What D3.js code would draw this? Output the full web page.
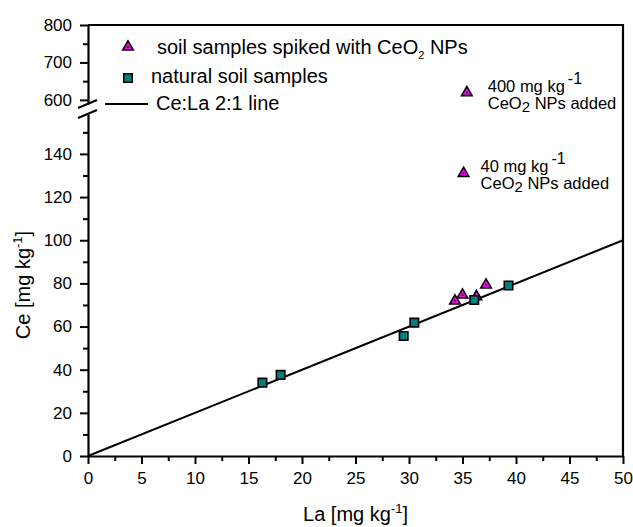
<!DOCTYPE html>
<html>
<head>
<meta charset="utf-8">
<title>Ce vs La</title>
<script src="https://cdn.jsdelivr.net/npm/d3@7"></script>
<style>
  body { margin: 0; background: #fff; }
  svg text { font-family: "Liberation Sans", Arial, sans-serif; fill: #000; }
</style>
</head>
<body>
<script>
// natural soil samples
var natLa = [16.3, 18.0, 29.5, 30.5, 36.1, 39.3];
var natCe = [34.0, 37.6, 55.6, 61.8, 72.3, 79.0];
// soil samples spiked with CeO2 NPs
var spkLa = [34.3, 35.0, 36.3, 37.2, 35.1, 35.4];
var spkCe = [71.9, 74.6, 73.9, 79.3, 131.0, 619.5];
// Ce:La 2:1 line
var lineLa = [0, 50];
var lineCe = [0, 100];

var xTicks = [0, 5, 10, 15, 20, 25, 30, 35, 40, 45, 50];
var yLowTicks = [0, 20, 40, 60, 80, 100, 120, 140];
var yHighTicks = [600, 700, 800];

// annotated spiked points (index into spk arrays)
var annotIdx = [4, 5];
var annotDose = ["40 mg kg", "400 mg kg"];
var annotDx = [17, 21];

var W = 633, H = 527;
var plotL = 88, plotR = 623, plotT = 25, plotB = 456;

var svg = d3.select("body").append("svg")
  .attr("width", W)
  .attr("height", H);

var x = d3.scaleLinear().domain([0, 50]).range([plotL, plotR]);
var yLow = d3.scaleLinear().domain([0, 158.5]).range([plotB, 114]);
var yHigh = d3.scaleLinear().domain([589, 800]).range([104, plotT]);
function yPos(v) { return v > 400 ? yHigh(v) : yLow(v); }

function styleAxis(g) {
  g.selectAll("path.domain").attr("stroke", "#000").attr("stroke-width", 2.2);
  g.selectAll(".tick line").attr("stroke", "#000").attr("stroke-width", 2);
  g.selectAll(".tick text").style("font-size", "17px").attr("fill", "#000");
}

// x axis
var gx = svg.append("g").attr("transform", "translate(0," + plotB + ")");
gx.call(d3.axisBottom(x).tickValues(d3.range(2.5, 50, 5)).tickSize(5).tickSizeOuter(0).tickFormat(""));
gx.append("g").call(d3.axisBottom(x).tickValues(xTicks).tickSize(8).tickPadding(8).tickSizeOuter(0)
  .tickFormat(d3.format("d")));
gx.select("g path.domain").remove();
styleAxis(gx);

// y axis lower segment
var gyl = svg.append("g").attr("transform", "translate(" + plotL + ",0)");
gyl.call(d3.axisLeft(yLow).tickValues(d3.range(10, 160, 20)).tickSize(5).tickSizeOuter(0).tickFormat(""));
gyl.append("g").call(d3.axisLeft(yLow).tickValues(yLowTicks).tickSize(8).tickPadding(8).tickSizeOuter(0)
  .tickFormat(d3.format("d")));
gyl.select("g path.domain").remove();
styleAxis(gyl);

// y axis upper segment
var gyh = svg.append("g").attr("transform", "translate(" + plotL + ",0)");
gyh.call(d3.axisLeft(yHigh).tickValues([650, 750]).tickSize(5).tickSizeOuter(0).tickFormat(""));
gyh.append("g").call(d3.axisLeft(yHigh).tickValues(yHighTicks).tickSize(8).tickPadding(8).tickSizeOuter(0)
  .tickFormat(d3.format("d")));
gyh.select("g path.domain").remove();
styleAxis(gyh);

// break marks
[[108, 100], [118, 110]].forEach(function(b) {
  svg.append("line")
    .attr("x1", plotL - 10).attr("y1", b[0])
    .attr("x2", plotL + 9).attr("y2", b[1])
    .attr("stroke", "#000").attr("stroke-width", 2);
});

// top and right frame
svg.append("path")
  .attr("d", "M" + plotL + "," + plotT + "H" + plotR + "V" + plotB)
  .attr("fill", "none").attr("stroke", "#000").attr("stroke-width", 2.2);

// 2:1 line
svg.append("line")
  .attr("x1", x(lineLa[0])).attr("y1", yLow(lineCe[0]))
  .attr("x2", x(lineLa[1])).attr("y2", yLow(lineCe[1]))
  .attr("stroke", "#000").attr("stroke-width", 2);

var tri = d3.symbol().type(d3.symbolTriangle).size(48);
var sq = d3.symbol().type(d3.symbolSquare).size(72);

function drawTri(g, cx, cy) {
  var t = g.append("g").attr("transform", "translate(" + cx + "," + cy + ")");
  t.append("path").attr("d", tri()).attr("fill", "#ff00ff").attr("stroke", "#000").attr("stroke-width", 1.6);
  t.append("circle").attr("r", 0.9).attr("fill", "#000");
}
function drawSq(g, cx, cy) {
  g.append("path").attr("d", sq())
    .attr("transform", "translate(" + cx + "," + cy + ")")
    .attr("fill", "#008080").attr("stroke", "#000").attr("stroke-width", 1.6);
}

var pts = svg.append("g");
spkLa.forEach(function(d, i) { drawTri(pts, x(d), yPos(spkCe[i])); });
natLa.forEach(function(d, i) { drawSq(pts, x(d), yPos(natCe[i])); });

// annotations for spiked points
annotIdx.forEach(function(idx, k) {
  var ax = x(spkLa[idx]) + annotDx[k];
  var ay = yPos(spkCe[idx]);
  var t1 = svg.append("text").attr("x", ax).attr("y", ay - 1).style("font-size", "16.5px");
  t1.append("tspan").text(annotDose[k]);
  t1.append("tspan").attr("dx", 3).attr("dy", -8).style("font-size", "16px").text("-1");
  var t2 = svg.append("text").attr("x", ax).attr("y", ay + 16).style("font-size", "16.5px");
  t2.append("tspan").text("CeO");
  t2.append("tspan").attr("dy", 3).style("font-size", "15px").text("2");
  t2.append("tspan").attr("dy", -3).text(" NPs added");
});

// legend
var lg = svg.append("g");
drawTri(lg, 128, 47);
var l1 = lg.append("text").attr("x", 157).attr("y", 54).style("font-size", "20px");
l1.append("tspan").text("soil samples spiked with CeO");
l1.append("tspan").attr("dy", 5).style("font-size", "11px").text("2");
l1.append("tspan").attr("dy", -5).text(" NPs");
drawSq(lg, 128, 78);
lg.append("text").attr("x", 151).attr("y", 83).style("font-size", "20px").text("natural soil samples");
lg.append("line").attr("x1", 105).attr("x2", 148).attr("y1", 104).attr("y2", 104)
  .attr("stroke", "#000").attr("stroke-width", 2);
lg.append("text").attr("x", 156).attr("y", 110).style("font-size", "20px").text("Ce:La 2:1 line");

// axis titles
var xt = svg.append("text").attr("x", (plotL + plotR) / 2).attr("y", 521)
  .attr("text-anchor", "middle").style("font-size", "20px");
xt.append("tspan").text("La [mg kg");
xt.append("tspan").attr("dy", -8).style("font-size", "13px").text("-1");
xt.append("tspan").attr("dy", 8).text("]");

var yt = svg.append("text")
  .attr("transform", "translate(30," + ((plotB + 114) / 2) + ") rotate(-90)")
  .attr("text-anchor", "middle").style("font-size", "20px");
yt.append("tspan").text("Ce [mg kg");
yt.append("tspan").attr("dy", -8).style("font-size", "13px").text("-1");
yt.append("tspan").attr("dy", 8).text("]");
</script>
</body>
</html>
